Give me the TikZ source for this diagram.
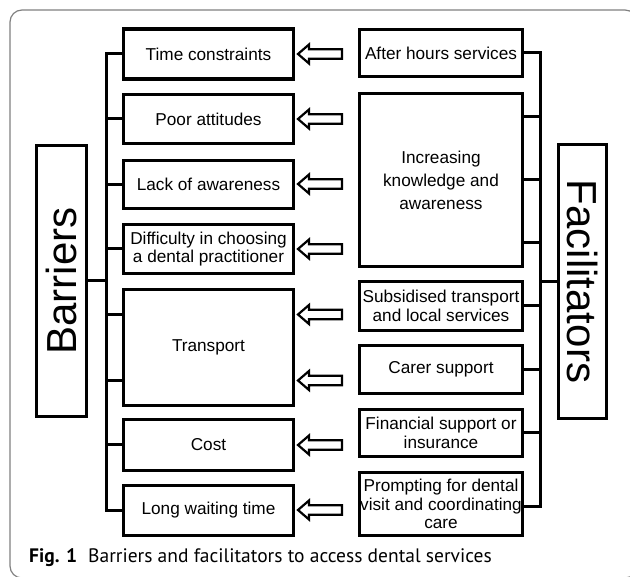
\documentclass[tikz,border=0pt]{standalone}
\usepackage{fontspec}
\setmainfont{Liberation Sans}
\newfontfamily\capfont{PT Sans}
\usetikzlibrary{calc,positioning}

\begin{document}
\begin{tikzpicture}[x=1pt,y=-1pt,
  item/.style={draw,line width=3.2pt,inner sep=1pt,align=center,font=\fontsize{17.2}{18.5}\selectfont},
  barrier/.style={item,minimum width=170pt},
  facil/.style={item,minimum width=163pt},
  side/.style={draw,line width=3.2pt,inner sep=0pt,font=\fontsize{42}{42}\selectfont},
  link/.style={line width=3pt,line cap=rect},
  hollow/.style={line width=2.2pt,line join=miter,fill=white}]
\useasboundingbox (0,0) rectangle (630,577);
%draw the frame
\begin{scope}
\clip (0,0) rectangle (630,577);
\draw[black!50,line width=1.2pt,rounded corners=12pt] (10,10) rectangle (637,578);
\end{scope}

%barriers
\node[side,rotate=90,minimum width=271pt,minimum height=50pt] (bar) at (61.5,281) {Barriers};
\node[barrier,minimum height=50pt] (time) at (208.5,54) {Time constraints};
\node[barrier,minimum height=49pt] (poor) at (208.5,119) {Poor attitudes};
\node[barrier,minimum height=48pt] (lack) at (208.5,184.5) {Lack of awareness};
\node[barrier,minimum height=49pt] (diff) at (208.5,249) {Difficulty in choosing\\a dental practitioner};
\node[barrier,minimum height=116pt] (tran) at (208.5,347.5) {Transport};
\node[barrier,minimum height=51pt] (cost) at (208.5,445) {Cost};
\node[barrier,minimum height=50pt] (wait) at (208.5,510.5) {Long waiting time};

% %facilitators
\node[side,rotate=-90,minimum width=274pt,minimum height=48pt] (fac) at (582.5,281.5) {Facilitators};
\node[facil,minimum height=47pt] (after) at (441,53) {After hours services};
\node[facil,minimum height=173pt,font=\fontsize{17.2}{23}\selectfont] (inc) at (441,180) {Increasing\\knowledge and\\awareness};
\node[facil,minimum height=49pt] (subs) at (441,306) {Subsidised transport\\and local services};
\node[facil,minimum height=48pt] (carer) at (441,369.5) {Carer support};
\node[facil,minimum height=47pt] (fin) at (441,433) {Financial support or\\insurance};
\node[facil,minimum height=63pt] (prom) at (441,504) {Prompting for dental\\visit and coordinating\\care};

%draw the left tree
\coordinate (lbus) at (106,0);
\coordinate (tran1) at ($(tran.west)+(0,-33)$);
\coordinate (tran2) at ($(tran.west)+(0,33)$);
\foreach \b in {time,poor,lack,diff,tran1,tran2,cost,wait}
	\draw[link] (\b.west) -- (\b.west -| lbus);
\draw[link] (time.west -| lbus) -- (wait.west -| lbus);
\draw[link] (bar) -- (bar -| lbus);

%draw the right tree
\coordinate (rbus) at (540,0);
\coordinate (inc1) at ($(inc.east)+(0,-63)$);
\coordinate (inc2) at ($(inc.east)+(0,63)$);
\coordinate (prom1) at ($(prom.east)+(0,3)$);
\foreach \f in {after,inc1,inc,inc2,subs,carer,fin,prom1}
	\draw[link] (\f.east) -- (\f.east -| rbus);
\draw[link] (after.east -| rbus) -- (prom1 -| rbus);
\draw[link] (fac) -- (fac -| rbus);

%draw the arrows
\foreach \y in {54,119,184,249,314.5,380.5,445,510}
	\draw[hollow] (298,\y) -- ++(11,-9.5) -- ++(0,4.7) -- ++(33,0) -- ++(0,9.6) -- ++(-33,0) -- ++(0,4.7) -- cycle;

%caption
\node[anchor=base west,inner sep=0pt,font=\capfont\fontsize{19.5}{19.5}\selectfont] (cap) at (29,562) {\textbf{Fig. 1}\hspace{11pt}Barriers and facilitators to access dental services};
\end{tikzpicture}
\end{document}
